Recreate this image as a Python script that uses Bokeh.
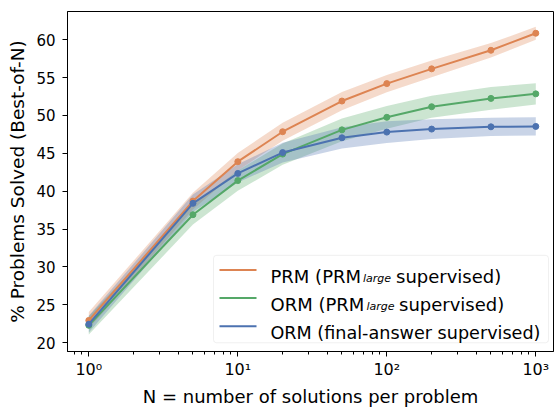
import numpy as np
from bokeh.plotting import figure
from bokeh.models import FixedTicker, BoxAnnotation, Range1d
from bokeh.core.properties import value
from bokeh.embed import file_html
from bokeh.resources import INLINE

# ---------------- data ----------------
n_solutions = [1, 5, 10, 20, 50, 100, 200, 500, 1000]

prm_mean = [22.95, 38.7, 43.9, 47.85, 51.9, 54.2, 56.15, 58.6, 60.85]
prm_err = [1.1, 1.1, 1.15, 1.2, 1.2, 1.15, 1.1, 0.95, 0.85]

orm_prm_mean = [22.3, 36.9, 41.4, 44.9, 48.1, 49.75, 51.15, 52.25, 52.85]
orm_prm_err = [1.2, 1.3, 1.35, 1.4, 1.5, 1.5, 1.45, 1.5, 1.4]

orm_fa_mean = [22.45, 38.4, 42.35, 45.1, 47.05, 47.8, 48.2, 48.5, 48.55]
orm_fa_err = [1.1, 1.15, 1.2, 1.3, 1.4, 1.45, 1.3, 1.2, 1.2]

y_ticks = [20, 25, 30, 35, 40, 45, 50, 55, 60]
x_ticks = [1, 10, 100, 1000]
x_tick_labels = ["10\u2070", "10\u00b9", "10\u00b2", "10\u00b3"]

legend_main = ["PRM (PRM", "ORM (PRM", "ORM (final-answer supervised)"]
legend_sub = ["large", "large", ""]
legend_tail = ["supervised)", "supervised)", ""]

colors = ["#DD8452", "#55A868", "#4C72B0"]
FONT = "DejaVu Sans"

# ------------- layout helpers (canvas pixel -> data) -------------
X0_PX, DEC_PX = 88.3, 149.0
Y60_PX, PX_PER_UNIT = 40.0, 7.8


def px_x(px):
    return 10 ** ((px - X0_PX) / DEC_PX)


def px_y(py):
    return 60 - (py - Y60_PX) / PX_PER_UNIT


W, H = 554, 409
FRAME_LEFT, FRAME_RIGHT, FRAME_TOP, FRAME_BOTTOM = 67, 553, 11, 361

p = figure(
    width=W, height=H,
    x_axis_type="log",
    x_range=Range1d(px_x(FRAME_LEFT), px_x(FRAME_RIGHT)),
    y_range=Range1d(px_y(FRAME_BOTTOM), px_y(FRAME_TOP)),
    output_backend="svg", toolbar_location=None,
    min_border_left=FRAME_LEFT, min_border_right=W - FRAME_RIGHT,
    min_border_top=FRAME_TOP, min_border_bottom=H - FRAME_BOTTOM,
)
p.grid.visible = False
p.outline_line_color = "black"
p.outline_line_width = 1
p.background_fill_color = "white"
p.border_fill_color = "white"

# ---- bands and lines ----
series = [
    (prm_mean, prm_err),
    (orm_prm_mean, orm_prm_err),
    (orm_fa_mean, orm_fa_err),
]
for (mean, err), c in zip(series, colors):
    m = np.array(mean)
    e = np.array(err)
    p.varea(x=n_solutions, y1=m - e, y2=m + e, fill_color=c, fill_alpha=0.3)
for (mean, err), c in zip(series, colors):
    p.line(n_solutions, mean, line_color=c, line_width=2)
    p.scatter(n_solutions, mean, size=6, fill_color=c, line_color=c)

# ---- axes ----
minor = [0.8, 0.9] + [k * 10 ** d for d in range(0, 3) for k in range(2, 10)]
p.xaxis.ticker = FixedTicker(ticks=x_ticks, minor_ticks=minor)
p.xaxis.major_label_overrides = dict(zip(x_ticks, x_tick_labels))
p.yaxis.ticker = FixedTicker(ticks=y_ticks)

for ax in (p.xaxis[0], p.yaxis[0]):
    ax.axis_line_color = "black"
    ax.major_tick_line_color = "black"
    ax.minor_tick_line_color = "black"
    ax.major_tick_in = 0
    ax.major_tick_out = 5
    ax.minor_tick_in = 0
    ax.minor_tick_out = 3
    ax.major_label_text_font = FONT
    ax.major_label_text_color = "black"
    ax.axis_label_text_font = FONT
    ax.axis_label_text_font_style = "normal"
    ax.axis_label_text_font_size = "18px"
    ax.axis_label_text_color = "black"

p.yaxis.minor_tick_line_color = None
p.xaxis.major_label_text_font_size = "16px"
p.yaxis.major_label_text_font_size = "15px"
p.xaxis.major_label_standoff = 3
p.yaxis.major_label_standoff = 7
p.xaxis.axis_label_standoff = 4
p.yaxis.axis_label_standoff = 5
p.yaxis.axis_label_text_font_size = "18.5px"
p.xaxis.axis_label = "N = number of solutions per problem"
p.yaxis.axis_label = "% Problems Solved (Best-of-N)"

# ---- custom legend ----
box = BoxAnnotation(
    left=px_x(213), right=px_x(548), top=px_y(262), bottom=px_y(352),
    fill_color="white", fill_alpha=0.8, line_color="#cccccc", line_width=1,
    border_radius=3,
)
p.add_layout(box)

row_px = [277, 306, 335]
main_size = ["18px", "18px", "17.6px"]
sub_px = [362.5, 366]
tail_px = [395.5, 398.5]
for i, c in enumerate(colors):
    yy = row_px[i]
    r = p.segment(x0=[px_x(219)], y0=[px_y(yy)], x1=[px_x(256)], y1=[px_y(yy)],
                  line_color=c, line_width=2)
    r.level = "overlay"
    t = p.text(x=[px_x(270)], y=[px_y(yy + 6.5)], text=[legend_main[i]],
               text_font=value(FONT), text_font_size=main_size[i],
               text_baseline="alphabetic", text_align="left", text_color="black")
    t.level = "overlay"
    if legend_sub[i]:
        s = p.text(x=[px_x(sub_px[i])], y=[px_y(yy + 8.5)], text=[legend_sub[i]],
                   text_font=value(FONT), text_font_size="11px", text_font_style="italic",
                   text_baseline="alphabetic", text_align="left", text_color="black")
        s.level = "overlay"
        tl = p.text(x=[px_x(tail_px[i])], y=[px_y(yy + 6.5)], text=[legend_tail[i]],
                    text_font=value(FONT), text_font_size="18px",
                    text_baseline="alphabetic", text_align="left", text_color="black")
        tl.level = "overlay"

open("out.html", "w").write(file_html(p, INLINE))
